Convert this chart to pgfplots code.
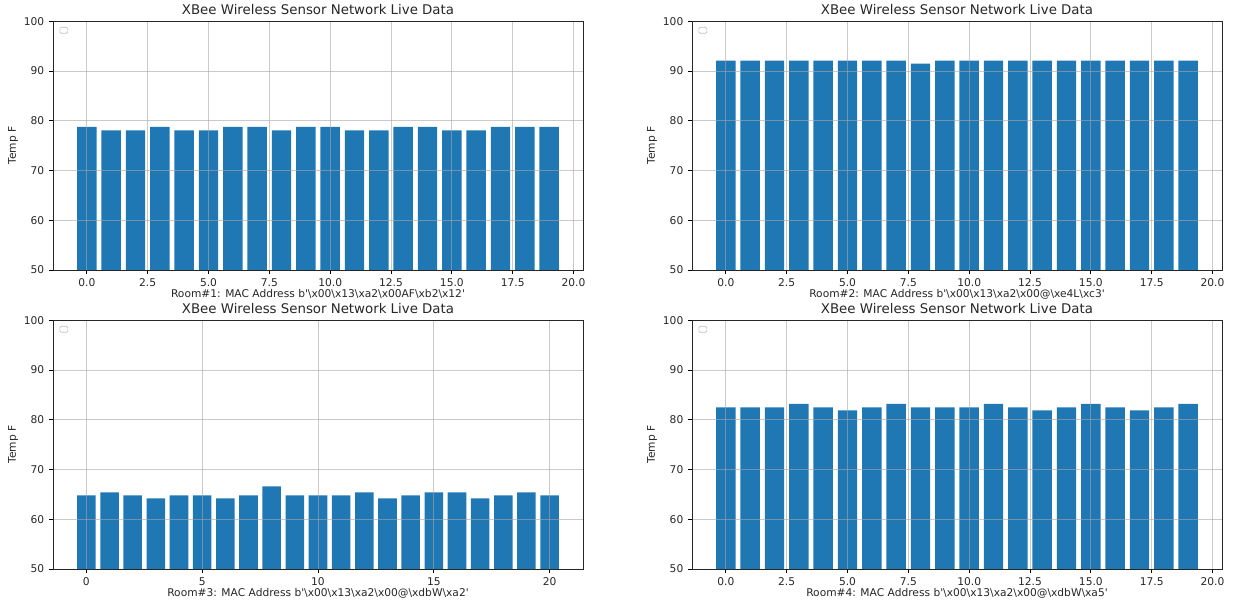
\documentclass[border=0pt]{standalone}
\usepackage{fontspec}
\setmainfont{DejaVu Sans}[Ligatures=TeXOff]
\usepackage{pgfplots}
\pgfplotsset{compat=1.18}
\definecolor{c0}{HTML}{1F77B4}
\newcommand{\bs}{\textbackslash}
\pgfplotsset{
  panel/.style={
    scale only axis, width=397.5pt, height=186.5pt, anchor=south west,
    ymin=50, ymax=100, ytick={50,60,70,80,90,100},
    ybar, bar width=0.8,
    axis on top,
    grid=major,
    major grid style={line width=0.6pt, color=black!35, opacity=0.6},
    tick align=outside, tick pos=left, major tick length=3pt,
    tick style={black, line width=0.6pt},
    axis line style={line width=0.6pt, black!85},
    /pgf/number format/assume math mode=true,
    ticklabel style={font=\fontsize{8}{9}\selectfont, text=black!85},
    every axis title/.style={font=\fontsize{10}{12}\selectfont, text=black!85,
      at={(axis description cs:0.5,1)}, anchor=base, yshift=4.9pt, inner sep=0pt},
    every axis x label/.style={font=\fontsize{8}{9}\selectfont, text=black!85,
      at={(axis description cs:0.5,0)}, anchor=base, yshift=-20.6pt, inner sep=0pt},
    every axis y label/.style={font=\fontsize{8}{9}\selectfont, text=black!85,
      at={(axis description cs:-0.0755,0.5)}, anchor=center, rotate=90, inner sep=0pt},
    title={XBee Wireless Sensor Network Live Data},
    ylabel={Temp F},
  },
  decx/.style={
    xmin=-1.39, xmax=20.39,
    xtick={0,2.5,5,7.5,10,12.5,15,17.5,20},
    xticklabel style={/pgf/number format/.cd, fixed, fixed zerofill, precision=1},
  },
  barstyle/.style={fill=c0, draw=none},
}
\newcommand{\legbox}{\draw[black!25, rounded corners=1pt, line width=0.5pt]
  (axis description cs:0.013,0.952) rectangle (axis description cs:0.028,0.976);}
\begin{document}
\begin{tikzpicture}
\path[use as bounding box] (0,0) rectangle (924.75pt,453pt);
% Room 1
\begin{axis}[panel, decx, at={(39.75pt,250.5pt)},
  xlabel={Room\#1: MAC Address b'\bs x00\bs x13\bs xa2\bs x00AF\bs xb2\bs x12'}]
\addplot[barstyle] coordinates {
(0,78.8) (1,78.1) (2,78.1) (3,78.8) (4,78.1) (5,78.1) (6,78.8) (7,78.8) (8,78.1) (9,78.8)
(10,78.8) (11,78.1) (12,78.1) (13,78.8) (14,78.8) (15,78.1) (16,78.1) (17,78.8) (18,78.8) (19,78.8)};
\legbox
\end{axis}
% Room 2
\begin{axis}[panel, decx, at={(519pt,250.5pt)},
  xlabel={Room\#2: MAC Address b'\bs x00\bs x13\bs xa2\bs x00@\bs xe4L\bs xc3'}]
\addplot[barstyle] coordinates {
(0,92.1) (1,92.1) (2,92.1) (3,92.1) (4,92.1) (5,92.1) (6,92.1) (7,92.1) (8,91.5) (9,92.1)
(10,92.1) (11,92.1) (12,92.1) (13,92.1) (14,92.1) (15,92.1) (16,92.1) (17,92.1) (18,92.1) (19,92.1)};
\legbox
\end{axis}
% Room 3
\begin{axis}[panel, at={(39.75pt,26.25pt)},
  xmin=-1.44, xmax=21.44, xtick={0,5,10,15,20},
  xlabel={Room\#3: MAC Address b'\bs x00\bs x13\bs xa2\bs x00@\bs xdbW\bs xa2'}]
\addplot[barstyle] coordinates {
(0,64.8) (1,65.4) (2,64.8) (3,64.2) (4,64.8) (5,64.8) (6,64.2) (7,64.8) (8,66.6) (9,64.8)
(10,64.8) (11,64.8) (12,65.4) (13,64.2) (14,64.8) (15,65.4) (16,65.4) (17,64.2) (18,64.8) (19,65.4) (20,64.8)};
\legbox
\end{axis}
% Room 4
\begin{axis}[panel, decx, at={(519pt,26.25pt)},
  xlabel={Room\#4: MAC Address b'\bs x00\bs x13\bs xa2\bs x00@\bs xdbW\bs xa5'}]
\addplot[barstyle] coordinates {
(0,82.5) (1,82.5) (2,82.5) (3,83.2) (4,82.5) (5,81.9) (6,82.5) (7,83.2) (8,82.5) (9,82.5)
(10,82.5) (11,83.2) (12,82.5) (13,81.9) (14,82.5) (15,83.2) (16,82.5) (17,81.9) (18,82.5) (19,83.2)};
\legbox
\end{axis}
\end{tikzpicture}
\end{document}
